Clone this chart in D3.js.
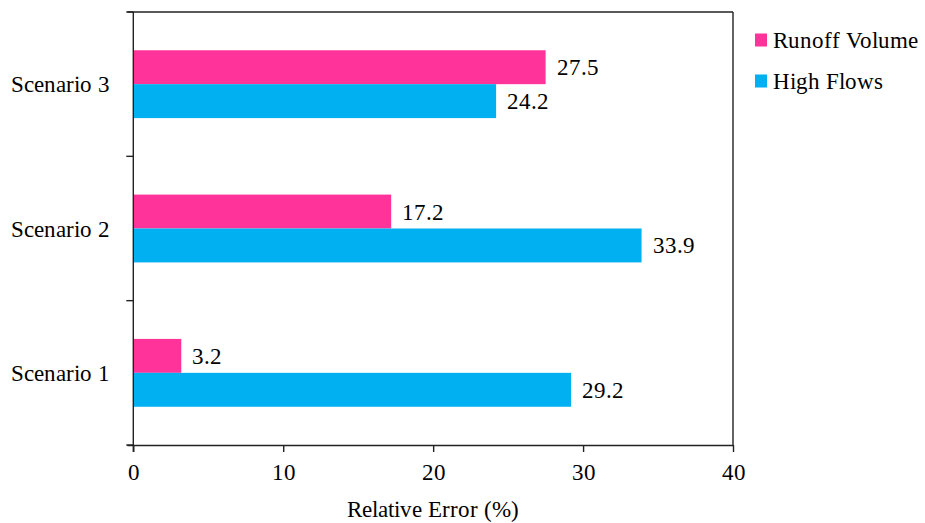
<!DOCTYPE html>
<html><head><meta charset="utf-8">
<script src="https://cdn.jsdelivr.net/npm/d3@7"></script>
<style>
@font-face { font-family: "RefSerif"; src: local("Liberation Serif"), local("LiberationSerif"), local("Liberation Serif Regular"), local("LiberationSerif-Regular"); }
body{margin:0;background:#fff}
svg text { font-family: "RefSerif", "Liberation Serif", serif !important; }
</style>
</head><body>
<svg id="c" width="925" height="523"></svg>
<script>
const categories = ["Scenario 1", "Scenario 2", "Scenario 3"];
const seriesNames = ["Runoff Volume", "High Flows"];
const runoffVolume = [3.2, 17.2, 27.5];
const highFlows = [29.2, 33.9, 24.2];
const xTicks = [0, 10, 20, 30, 40];
const colors = ["#FF3399", "#00B0F0"];
const FONT = '"RefSerif", "Liberation Serif", serif';

const svg = d3.select("#c");
const L = 133.3, R = 733, T = 12, B = 445;
const x = d3.scaleLinear().domain([0, 40]).range([L, R]);
const y = d3.scaleBand().domain(categories.slice().reverse()).range([T, B]).paddingInner(0.53).paddingOuter(0.265);
const sub = d3.scaleBand().domain(seriesNames).range([0, y.bandwidth()]);
const vals = [runoffVolume, highFlows];

function txt(sel) {
  return sel.attr("font-family", FONT).attr("font-size", 23).attr("fill", "#000");
}

const g = svg.append("g");
seriesNames.forEach((s, si) => {
  g.selectAll(".b" + si).data(categories).enter().append("rect")
    .attr("x", x(0))
    .attr("y", d => y(d) + sub(s))
    .attr("width", (d, i) => x(vals[si][i]) - x(0))
    .attr("height", sub.bandwidth())
    .attr("fill", colors[si]);
  txt(g.selectAll(".l" + si).data(categories).enter().append("text"))
    .attr("x", (d, i) => x(vals[si][i]) + 11)
    .attr("y", d => y(d) + sub(s) + sub.bandwidth() / 2 + 8)
    .text((d, i) => vals[si][i].toFixed(1));
});

const lc = "#222", lw = 1.4;
svg.append("line").attr("x1", L - 6).attr("x2", R).attr("y1", T).attr("y2", T).attr("stroke", lc).attr("stroke-width", lw);
svg.append("line").attr("x1", R).attr("x2", R).attr("y1", T).attr("y2", B).attr("stroke", lc).attr("stroke-width", lw);

const xa = svg.append("g").attr("transform", `translate(0,${B})`)
  .call(d3.axisBottom(x).tickValues(xTicks).tickSize(7).tickSizeOuter(0).tickPadding(12));
xa.attr("font-family", FONT).attr("font-size", 23);
xa.selectAll("path,line").attr("stroke", lc).attr("stroke-width", lw);
xa.select("path").attr("d", `M${L - 6},0.5H${R}`);
txt(xa.selectAll("text"));

const yg = svg.append("g");
yg.append("line").attr("x1", L).attr("x2", L).attr("y1", T).attr("y2", B + 7).attr("stroke", lc).attr("stroke-width", lw);
const edgeScale = d3.scaleBand().domain(categories.slice().reverse()).range([T, B]);
const edges = [...categories.map(c => edgeScale(c)), B];
yg.selectAll(".yt").data(edges).enter().append("line")
  .attr("x1", L - 7).attr("x2", L).attr("y1", d => d).attr("y2", d => d)
  .attr("stroke", lc).attr("stroke-width", lw);
txt(yg.selectAll(".yl").data(categories).enter().append("text"))
  .attr("x", 110).attr("text-anchor", "end")
  .attr("y", d => y(d) + y.bandwidth() / 2 + 8).text(d => d);

txt(svg.append("text")).attr("x", (L + R) / 2).attr("y", 517).attr("text-anchor", "middle")
  .text("Relative Error (%)");

const lg = svg.append("g");
seriesNames.forEach((s, i) => {
  const cy = 40 + i * 41;
  lg.append("rect").attr("x", 755).attr("y", cy - 6.5).attr("width", 12).attr("height", 13).attr("fill", colors[i]);
  txt(lg.append("text")).attr("x", 773).attr("y", cy + 8).text(s);
});
</script>
</body></html>
